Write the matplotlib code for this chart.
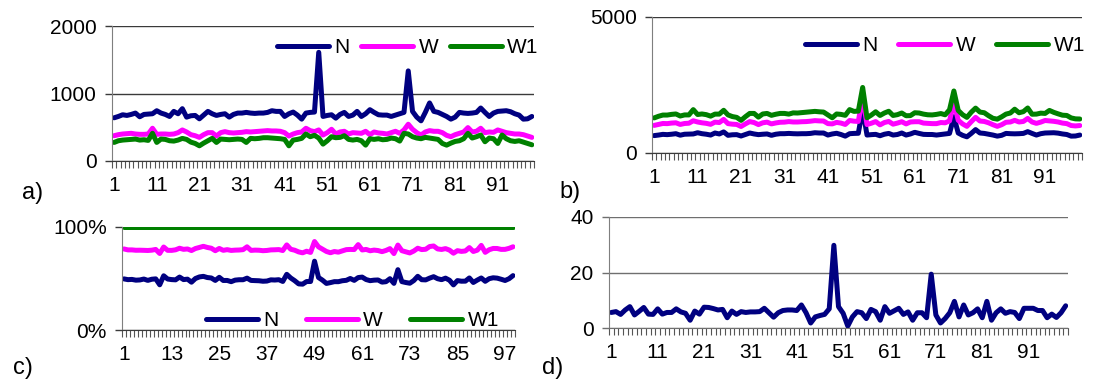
"""Four-panel Excel-style line charts: raw series, stacked, 100% stacked, ratio."""
import matplotlib
matplotlib.use("Agg")
import matplotlib.pyplot as plt
import numpy as np

plt.rcParams["font.family"] = ["Liberation Sans", "DejaVu Sans"]

# ---- data ----
series_names = ["N", "W", "W1"]
colors = ["#000080", "#FF00FF", "#008000"]

n_vals = [640, 660, 685, 675, 690, 710, 655, 690, 695, 700,
          745, 710, 690, 660, 735, 700, 775, 650, 670, 675,
          625, 680, 735, 700, 675, 690, 700, 650, 690, 710,
          710, 720, 710, 705, 710, 710, 720, 745, 735, 735,
          660, 700, 725, 680, 620, 710, 720, 725, 1610, 660,
          675, 685, 635, 690, 720, 660, 680, 735, 660, 700,
          760, 720, 685, 680, 680, 660, 680, 700, 720, 1335,
          735, 650, 595, 720, 860, 735, 720, 690, 660, 620,
          650, 720, 710, 705, 710, 720, 785, 720, 660, 710,
          735, 740, 745, 730, 700, 680, 620, 625, 660]

w_vals = [375, 390, 400, 405, 410, 400, 395, 395, 400, 485,
          395, 400, 400, 395, 400, 420, 460, 430, 390, 375,
          350, 390, 420, 420, 370, 420, 435, 420, 415, 420,
          425, 435, 430, 435, 440, 445, 450, 445, 445, 440,
          420, 370, 400, 420, 430, 485, 450, 435, 460, 385,
          420, 470, 400, 430, 440, 400, 420, 415, 410, 440,
          390, 430, 415, 410, 400, 420, 440, 410, 460, 545,
          470, 420, 385, 430, 450, 440, 440, 420, 380, 360,
          390, 410, 430, 495, 430, 440, 485, 420, 430, 425,
          460, 440, 420, 410, 400, 400, 390, 370, 350]

w1_vals = [275, 300, 310, 315, 320, 325, 310, 315, 305, 410,
           275, 325, 320, 300, 295, 310, 335, 320, 280, 260,
           225, 265, 300, 335, 275, 325, 320, 315, 320, 325,
           320, 275, 335, 330, 335, 345, 345, 340, 335, 330,
           320, 225, 310, 320, 335, 400, 360, 380, 340, 250,
           300, 360, 345, 350, 375, 320, 310, 320, 300, 235,
           330, 320, 330, 315, 320, 340, 330, 295, 410, 400,
           360, 340, 330, 350, 340, 330, 320, 260, 235, 265,
           290, 300, 330, 410, 340, 360, 385, 285, 340, 330,
           260, 385, 330, 300, 290, 300, 280, 260, 240]

d_vals = [5.6, 5.9, 4.9, 6.5, 7.7, 4.7, 6.0, 7.4, 5.0, 4.9,
          6.9, 5.0, 5.6, 5.6, 6.9, 5.8, 5.3, 2.8, 6.1, 5.0,
          7.5, 7.4, 7.0, 6.5, 6.7, 3.7, 6.1, 4.9, 5.9, 5.6,
          5.8, 5.8, 5.9, 7.1, 5.5, 3.9, 5.5, 6.3, 6.5, 6.5,
          6.3, 8.3, 5.5, 1.8, 4.0, 4.5, 4.9, 6.9, 29.8, 7.7,
          5.3, 0.7, 4.0, 5.9, 5.5, 3.4, 6.7, 5.9, 2.8, 7.7,
          5.3, 6.2, 7.1, 4.9, 5.8, 2.8, 5.5, 5.5, 3.7, 19.4,
          4.7, 1.8, 3.4, 5.5, 9.6, 4.0, 8.3, 4.7, 5.5, 6.9,
          3.7, 9.6, 2.8, 5.5, 6.9, 5.3, 5.9, 5.6, 3.4, 7.1,
          7.1, 7.1, 6.3, 6.3, 3.7, 5.0, 3.8, 5.5, 8.0]

W_PX, H_PX = 1096, 385
FS = 15
LW = 3.6


def px_axes(fig, left, top, right, bottom):
    """Add axes from pixel box (origin top-left)."""
    return fig.add_axes([left / W_PX, 1 - bottom / H_PX,
                         (right - left) / W_PX, (bottom - top) / H_PX])


def excel_style(ax, n, label_step, yticks, yfmt=None, grid_color="#3a3a3a"):
    ax.set_xlim(0.5, n + 0.5)
    ax.set_xticks(np.arange(1, n + 1, label_step))
    ax.set_xticks(np.arange(0.5, n + 1, 1), minor=True)
    ax.tick_params(axis="x", which="major", length=0, pad=11, labelsize=FS)
    ax.tick_params(axis="x", which="minor", length=5, width=0.8,
                   color="#555555", direction="out")
    ax.set_yticks(yticks)
    ax.set_ylim(yticks[0], yticks[-1])
    if yfmt is not None:
        ax.set_yticklabels([yfmt(v) for v in yticks])
    ax.tick_params(axis="y", length=5, width=1, color=grid_color,
                   labelsize=FS, pad=6)
    ax.grid(axis="y", color=grid_color, linewidth=1)
    ax.set_axisbelow(True)
    for side in ("top", "right"):
        ax.spines[side].set_visible(False)
    ax.spines["left"].set_color("#7f7f7f")
    ax.spines["bottom"].set_color(grid_color)


def legend(ax, loc, anchor, colspace):
    ax.legend(loc=loc, bbox_to_anchor=anchor, ncol=3, frameon=False,
              fontsize=FS, handlelength=2.5, handletextpad=0.25,
              columnspacing=colspace, borderaxespad=0)


def main() -> None:
    n, w, w1, d = (np.array(v, dtype=float) for v in (n_vals, w_vals, w1_vals, d_vals))
    x = np.arange(1, len(n) + 1)

    fig = plt.figure(figsize=(W_PX / 100, H_PX / 100), dpi=100)

    # a) raw series
    ax = px_axes(fig, 112, 26, 534, 161)
    for name, vals, c in zip(series_names, (n, w, w1), colors):
        ax.plot(x, vals, color=c, lw=LW, label=name, solid_capstyle="round")
    excel_style(ax, len(x), 10, [0, 1000, 2000])
    legend(ax, "upper right", (1.03, 0.97), 0.55)

    # b) stacked
    ax = px_axes(fig, 652, 17, 1082, 153)
    stacked = np.cumsum(np.vstack([n, w, w1]), axis=0)
    for name, vals, c in zip(series_names, stacked, colors):
        ax.plot(x, vals, color=c, lw=LW, label=name, solid_capstyle="round")
    excel_style(ax, len(x), 10, [0, 5000])
    legend(ax, "upper right", (1.026, 0.92), 1.0)

    # c) 100% stacked
    ax = px_axes(fig, 122, 227, 515, 330)
    share = stacked / stacked[-1]
    for name, vals, c in zip(series_names, share, colors):
        ax.plot(x, vals, color=c, lw=LW, label=name, solid_capstyle="round")
    excel_style(ax, len(x), 12, [0, 1], yfmt=lambda v: f"{v:.0%}")
    legend(ax, "lower right", (0.98, -0.08), 1.3)

    # d) single ratio series
    ax = px_axes(fig, 609, 217, 1068, 328)
    ax.plot(x, d, color=colors[0], lw=LW, solid_capstyle="round")
    excel_style(ax, len(x), 10, [0, 20, 40], grid_color="#6f6f6f")

    for lab, px, py in [("a)", 33, 193), ("b)", 570, 192),
                        ("c)", 23, 368), ("d)", 553, 368)]:
        fig.text(px / W_PX, 1 - py / H_PX, lab, fontsize=17,
                 ha="center", va="center")

    fig.savefig("out.png", dpi=100)
    plt.close(fig)


if __name__ == "__main__":
    main()
